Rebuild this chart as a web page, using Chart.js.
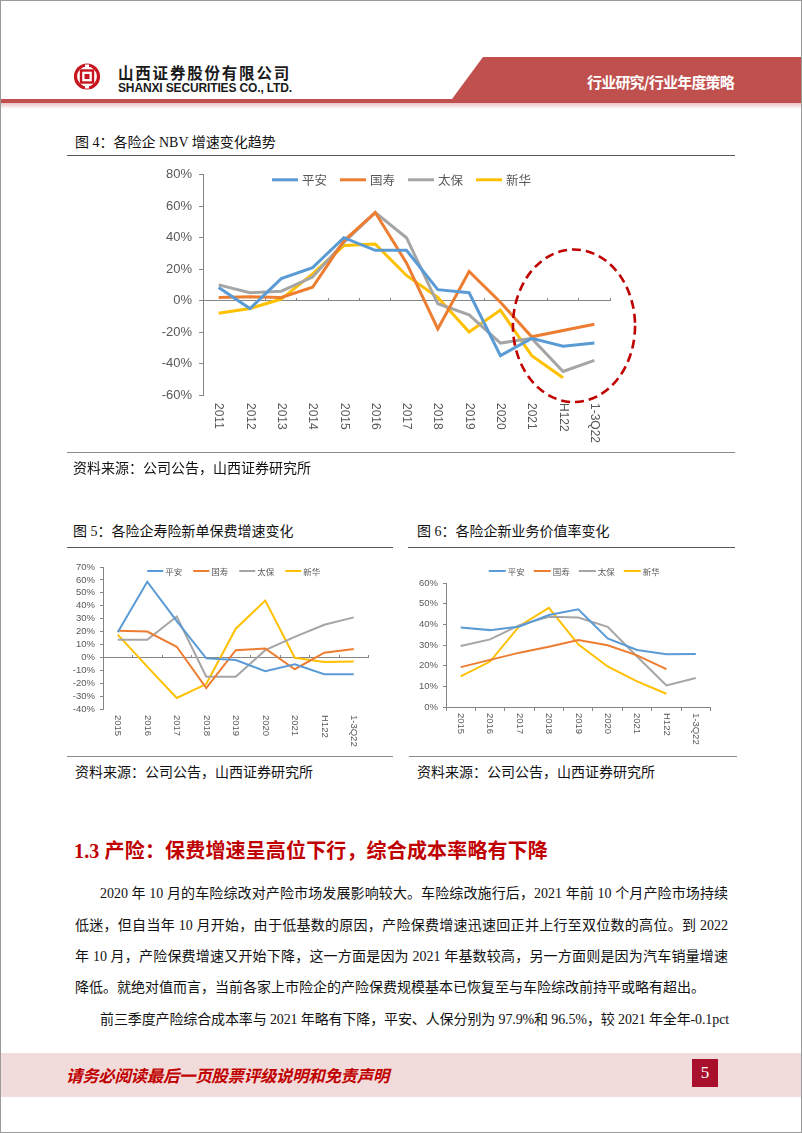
<!DOCTYPE html>
<html><head><meta charset="utf-8">
<script src="https://cdn.jsdelivr.net/npm/chart.js@4.4.0/dist/chart.umd.min.js"></script>
<style>
html,body{margin:0;padding:0;background:#fff;}
#page{position:relative;width:802px;height:1133px;overflow:hidden;background:#fff;}
.t{position:absolute;white-space:nowrap;line-height:20px;height:20px;}
.cjk{font-family:"Liberation Serif","Noto Sans CJK SC",serif;}
.sans{font-family:"Noto Sans CJK SC","Liberation Sans",sans-serif;}
.hl{position:absolute;height:0;}
canvas{position:absolute;}
.para{position:absolute;white-space:nowrap;font-family:"Liberation Serif","Noto Sans CJK SC",serif;font-size:14px;line-height:20px;height:20px;color:#111;}
.just{text-align:justify;text-align-last:justify;white-space:normal !important;}
</style></head>
<body><div id="page">

<!-- header -->
<svg width="802" height="112" style="position:absolute;left:0;top:0">
  <defs><linearGradient id="fade" x1="0" y1="0" x2="0" y2="1"><stop offset="0" stop-color="#ebc3c2"/><stop offset="1" stop-color="#ffffff"/></linearGradient></defs>
  <rect x="0" y="103" width="802" height="6" fill="url(#fade)"/>
  <polygon points="483,57 802,57 802,103 0,103 0,99 452,99" fill="#c0504d"/>
  <g transform="translate(87,76.5)">
    <circle r="11.5" fill="none" stroke="#c8161e" stroke-width="3.2"/>
    <rect x="-6" y="-6" width="12" height="12" fill="none" stroke="#c8161e" stroke-width="2.4"/>
    <rect x="-2.5" y="-2.5" width="5" height="5" fill="#c8161e"/>
    <rect x="-2" y="-12" width="4" height="4" fill="#fff"/>
    <rect x="-2" y="8" width="4" height="4" fill="#fff"/>
  </g>
</svg>
<div id="cn" class="t sans" style="left:118px;top:62px;font-size:15.5px;font-weight:bold;color:#1a1a1a;">山西证券股份有限公司</div>
<div id="en" class="t" style="left:118px;top:78px;font-family:'Liberation Sans',sans-serif;font-size:12px;font-weight:bold;color:#1a1a1a;">SHANXI SECURITIES CO., LTD.</div>
<div id="hr" class="t sans" style="left:587px;top:72px;font-size:15px;font-weight:bold;color:#fff;">行业研究/行业年度策略</div>

<!-- figure 4 -->
<div class="t cjk" style="left:75px;top:133px;font-size:14px;color:#111;">图 4：各险企 NBV 增速变化趋势</div>
<div class="hl" style="left:67px;top:155px;width:668px;border-top:1px solid #555;"></div>
<canvas id="c4" width="500" height="300" style="left:150px;top:160px;"></canvas>
<div class="hl" style="left:67px;top:452px;width:668px;border-top:1px solid #8a8a8a;"></div>
<div class="t cjk" style="left:73px;top:459px;font-size:14px;color:#111;">资料来源：公司公告，山西证券研究所</div>

<!-- figure 5 / 6 -->
<div class="t cjk" style="left:73px;top:522px;font-size:14px;color:#111;">图 5：各险企寿险新单保费增速变化</div>
<div class="hl" style="left:67px;top:547px;width:326px;border-top:1px solid #555;"></div>
<div class="t cjk" style="left:417px;top:522px;font-size:14px;color:#111;">图 6：各险企新业务价值率变化</div>
<div class="hl" style="left:408px;top:547px;width:327px;border-top:1px solid #555;"></div>
<canvas id="c5" width="330" height="200" style="left:60px;top:550px;"></canvas>
<canvas id="c6" width="330" height="200" style="left:400px;top:550px;"></canvas>
<div class="hl" style="left:67px;top:756px;width:326px;border-top:1px solid #8a8a8a;"></div>
<div class="hl" style="left:409px;top:756px;width:328px;border-top:1px solid #8a8a8a;"></div>
<div class="t cjk" style="left:75px;top:763px;font-size:14px;color:#111;">资料来源：公司公告，山西证券研究所</div>
<div class="t cjk" style="left:417px;top:763px;font-size:14px;color:#111;">资料来源：公司公告，山西证券研究所</div>

<!-- section text -->
<div id="hd" class="t cjk" style="left:74px;top:839px;height:24px;line-height:24px;font-size:20px;font-weight:bold;color:#c00000;">1.3 产险：保费增速呈高位下行，综合成本率略有下降</div>
<div class="para" data-w="628" style="left:100px;top:884px;">2020 年 10 月的车险综改对产险市场发展影响较大。车险综改施行后，2021 年前 10 个月产险市场持续</div>
<div class="para" data-w="653" style="left:75px;top:916px;">低迷，但自当年 10 月开始，由于低基数的原因，产险保费增速迅速回正并上行至双位数的高位。到 2022</div>
<div class="para" data-w="653" style="left:75px;top:947px;">年 10 月，产险保费增速又开始下降，这一方面是因为 2021 年基数较高，另一方面则是因为汽车销量增速</div>
<div class="para" style="left:75px;top:978px;">降低。就绝对值而言，当前各家上市险企的产险保费规模基本已恢复至与车险综改前持平或略有超出。</div>
<div class="para" data-w="629" style="left:100px;top:1010px;">前三季度产险综合成本率与 2021 年略有下降，平安、人保分别为 97.9%和 96.5%，较 2021 年全年-0.1pct</div>

<!-- footer -->
<div style="position:absolute;left:0;top:1053px;width:802px;height:44px;background:#f2dcdb;"></div>
<div id="ft" class="t sans" style="left:66px;top:1065px;font-size:16.5px;font-weight:bold;font-style:italic;color:#c00000;">请务必阅读最后一页股票评级说明和免责声明</div>
<div style="position:absolute;left:692px;top:1059px;width:26px;height:28px;background:#a8102b;color:#fff;font-family:'Liberation Serif',serif;font-size:17px;line-height:28px;text-align:center;">5</div>
<div style="position:absolute;left:0;top:0;width:802px;height:1133px;box-sizing:border-box;border:1px solid #9a9a9a;pointer-events:none;"></div>
</div>

<script>
// ---------- data ----------
const seriesNames = ['平安', '国寿', '太保', '新华'];

// Figure 4: NBV growth
const nbvPeriods = ['2011','2012','2013','2014','2015','2016','2017','2018','2019','2020','2021','H122','1-3Q22'];
const nbvPingan  = [8.4, -5, 14, 21, 40, 32, 32, 7, 5, -35, -24, -29, -27];
const nbvGuoshou = [2, 2.5, 2, 8.5, 38, 56, 24, -18, 18.5, -1, -23, -19, -15];
const nbvTaibao  = [10, 5, 6, 15, 37, 56, 40, -2, -9, -27, -24, -45, -38];
const nbvXinhua  = [-8, -5, 1, 17, 35, 36, 16, 2, -20, -6, -35, -49, null];
const nbvAxisTicks = { min: -60, max: 80, step: 20 };

// Figure 5: new single premium growth
const premPeriods = ['2015','2016','2017','2018','2019','2020','2021','H122','1-3Q22'];
const premPingan  = [19.4, 58.6, 28, -0.8, -2, -10.7, -5.4, -13, -13];
const premGuoshou = [20.7, 20, 8.2, -23.8, 5.6, 6.9, -9.2, 3.6, 6.4];
const premTaibao  = [13.6, 13.6, 31.7, -15, -15, 5.6, 15.9, 25.3, 31];
const premXinhua  = [17.6, -7.2, -31.5, -20.7, 22.2, 44, -0.3, -3.6, -3.3];
const premAxisTicks = { min: -40, max: 70, step: 10 };

// Figure 6: NBV margin
const marginPeriods = ['2015','2016','2017','2018','2019','2020','2021','H122','1-3Q22'];
const marginPingan  = [38.5, 37.2, 39, 44.5, 47.3, 33.2, 27.6, 25.5, 25.7];
const marginGuoshou = [19.3, 22.8, 26.3, 29.2, 32.4, 29.9, 25, 18.3, null];
const marginTaibao  = [29.5, 32.7, 39.6, 43.7, 43.3, 38.8, 24.4, 10.4, 14];
const marginXinhua  = [14.8, 22, 39.2, 48, 30.3, 19.6, 12.4, 6.4, null];
const marginAxisTicks = { min: 0, max: 60, step: 10 };

// ---------- styles ----------
const COLORS = ['#5b9bd5', '#ed7d31', '#a5a5a5', '#ffc000'];
const AXIS = '#868686';
const TXT = '#595959';

// ---------- plugins ----------
const lineLegend = {
  id: 'lineLegend',
  beforeDatasetsDraw(chart, args, o) {
    const ctx = chart.ctx, ca = chart.chartArea;
    ctx.save();
    ctx.font = o.font;
    const items = chart.data.datasets.map(ds => ({ label: ds.label, color: ds.borderColor, w: ctx.measureText(ds.label).width }));
    const total = items.reduce((s, it) => s + o.lineLen + o.gap + it.w, 0) + o.spacing * (items.length - 1);
    let x = (ca.left + ca.right) / 2 + o.dx - total / 2;
    const y = ca.top + o.dy;
    items.forEach(it => {
      ctx.strokeStyle = it.color; ctx.lineWidth = o.lineWidth;
      ctx.beginPath(); ctx.moveTo(x, y); ctx.lineTo(x + o.lineLen, y); ctx.stroke();
      x += o.lineLen + o.gap;
      ctx.fillStyle = o.color; ctx.textAlign = 'left'; ctx.textBaseline = 'middle';
      ctx.fillText(it.label, x, y + 0.5);
      x += it.w + o.spacing;
    });
    ctx.restore();
  }
};

const rotLabels = {
  id: 'rotLabels',
  afterDraw(chart, args, o) {
    const sc = chart.scales.x, ctx = chart.ctx;
    ctx.save();
    ctx.font = o.font; ctx.fillStyle = o.color; ctx.textAlign = 'left'; ctx.textBaseline = 'middle';
    chart.data.labels.forEach((lab, i) => {
      ctx.save();
      ctx.translate(sc.getPixelForValue(i), chart.chartArea.bottom + o.gap);
      ctx.rotate(Math.PI / 2);
      ctx.fillText(lab, 0, 0);
      ctx.restore();
    });
    ctx.restore();
  }
};

const ellipseMark = {
  id: 'ellipseMark',
  afterDatasetsDraw(chart, args, o) {
    const xs = chart.scales.x, ys = chart.scales.y, ctx = chart.ctx;
    const cx = xs.getPixelForValue(o.cx), cy = ys.getPixelForValue(o.cy);
    const rx = xs.getPixelForValue(o.cx + o.rx) - cx;
    const ry = cy - ys.getPixelForValue(o.cy + o.ry);
    ctx.save();
    ctx.strokeStyle = o.color; ctx.lineWidth = o.width; ctx.setLineDash(o.dash);
    ctx.beginPath(); ctx.ellipse(cx, cy, rx, ry, 0, 0, Math.PI * 2); ctx.stroke();
    ctx.restore();
  }
};

function lineChart(id, labels, series, tk, o) {
  return new Chart(document.getElementById(id), {
    type: 'line',
    data: {
      labels: labels,
      datasets: series.map((d, i) => ({
        label: seriesNames[i], data: d, borderColor: COLORS[i], backgroundColor: COLORS[i],
        borderWidth: o.lw, pointRadius: 0, pointHoverRadius: 0, tension: 0, fill: false
      }))
    },
    options: {
      responsive: false, animation: false, devicePixelRatio: 1,
      layout: { padding: o.pad },
      plugins: {
        legend: { display: false }, tooltip: { enabled: false },
        lineLegend: o.legend, rotLabels: o.xlab, ellipseMark: o.ellipse || false
      },
      scales: {
        x: {
          type: 'category', offset: true, position: { y: o.xAt },
          ticks: { display: false },
          grid: { offset: true, drawOnChartArea: false, drawTicks: true, tickLength: o.xTick, color: AXIS, lineWidth: 1 },
          border: { display: true, color: AXIS, width: 1 },
          afterFit: s => { s.height = 0; }
        },
        y: {
          min: tk.min, max: tk.max,
          ticks: { stepSize: tk.step, autoSkip: false, callback: v => v + '%', font: { family: 'Liberation Sans', size: o.yFont }, color: TXT, padding: o.yPad },
          grid: { drawOnChartArea: false, drawTicks: true, tickLength: o.yTick, color: AXIS },
          border: { display: true, color: AXIS, width: 1 },
          afterFit: s => { s.width = o.yW; }
        }
      }
    },
    plugins: [lineLegend, rotLabels, ellipseMark]
  });
}

lineChart('c4', nbvPeriods, [nbvPingan, nbvGuoshou, nbvTaibao, nbvXinhua], nbvAxisTicks, {
  lw: 3, pad: { left: 0, right: 40, top: 14, bottom: 65 }, yW: 53, yFont: 13, yPad: 7, yTick: 4,
  xAt: 0, xTick: -3,
  legend: { font: '12.5px "Noto Sans CJK SC"', lineLen: 26, gap: 4, spacing: 13, lineWidth: 3, dx: -5, dy: 5, color: TXT },
  xlab: { font: '12px "Liberation Sans"', color: TXT, gap: 8 },
  ellipse: { cx: 11.35, cy: -16, rx: 1.95, ry: 48.5, color: '#c00000', width: 2.6, dash: [9, 5] }
});

lineChart('c5', premPeriods, [premPingan, premGuoshou, premTaibao, premXinhua], premAxisTicks, {
  lw: 2, pad: { left: 0, right: 21.5, top: 17, bottom: 41 }, yW: 43, yFont: 9.5, yPad: 5, yTick: 3,
  xAt: 0, xTick: -3,
  legend: { font: '8.5px "Noto Sans CJK SC"', lineLen: 16, gap: 2, spacing: 11, lineWidth: 2, dx: -2, dy: 4, color: TXT },
  xlab: { font: '9.5px "Liberation Sans"', color: TXT, gap: 6 }
});

lineChart('c6', marginPeriods, [marginPingan, marginGuoshou, marginTaibao, marginXinhua], marginAxisTicks, {
  lw: 2, pad: { left: 0, right: 19.5, top: 33, bottom: 43 }, yW: 46, yFont: 9.5, yPad: 5, yTick: 3,
  xAt: 0, xTick: 3,
  legend: { font: '8.5px "Noto Sans CJK SC"', lineLen: 17, gap: 2, spacing: 9, lineWidth: 2, dx: -4, dy: -12, color: TXT },
  xlab: { font: '9.5px "Liberation Sans"', color: TXT, gap: 6 }
});

// ---------- fit header / heading text widths ----------
function fitLS(id, target) {
  const el = document.getElementById(id);
  const n = el.textContent.length;
  const w = el.getBoundingClientRect().width;
  el.style.letterSpacing = ((target - w) / n) + 'px';
}
fitLS('cn', 173);
fitLS('en', 174);
fitLS('hr', 147);
fitLS('hd', 474);
fitLS('ft', 323);

// paragraph lines: justify to target width, or tighten if too long
document.querySelectorAll('.para[data-w]').forEach(el => {
  const target = +el.dataset.w;
  const w = el.getBoundingClientRect().width;
  if (w > target) {
    el.style.letterSpacing = ((target - w) / el.textContent.length) + 'px';
  } else {
    el.style.width = target + 'px';
    el.classList.add('just');
  }
});
</script>
</body></html>
